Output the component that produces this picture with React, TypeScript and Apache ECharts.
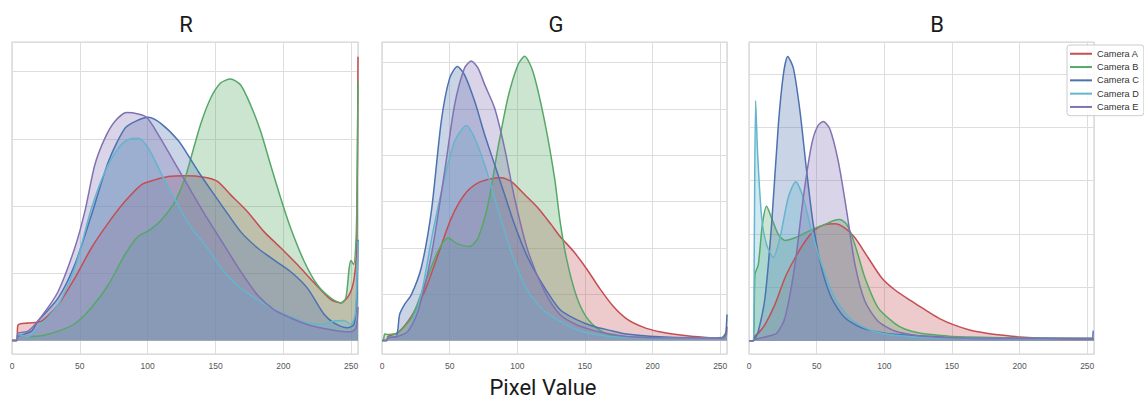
import React, { useEffect, useRef } from "react";
import * as echarts from "echarts";

const CAMERAS = ["Camera A", "Camera B", "Camera C", "Camera D", "Camera E"];
const COLORS = ["#c44e52", "#55a868", "#4c72b0", "#64b5cd", "#8172b2"];
const PANEL_TITLES = ["R", "G", "B"];
const X_LABEL = "Pixel Value";

// Values in units of the horizontal grid spacing (y labels are hidden in the reference)
const R_A = [[0,0],[3.5,0],[4.4,0.23],[11.8,0.26],[21.7,0.29],[34,0.53],[46.3,0.93],[58.6,1.38],[71,1.75],[83.3,2.07],[95.6,2.32],[105.4,2.39],[115.3,2.44],[127.6,2.45],[141.4,2.43],[151.2,2.37],[161,2.17],[173.4,1.92],[185.7,1.62],[198,1.38],[210.3,1.13],[222.7,0.86],[235,0.61],[242.4,0.56],[248.5,0.68],[252.2,0.93],[254,1.4],[255,4.22]];
const R_B = [[0,0],[3.5,0],[4.4,0.09],[11.8,0.06],[21.7,0.07],[34,0.14],[46.3,0.25],[58.6,0.49],[71,0.83],[83.3,1.28],[93,1.55],[100.5,1.63],[110.3,1.8],[120.2,2.07],[127.6,2.42],[131.5,2.69],[138.9,3.21],[146.3,3.6],[153.7,3.83],[161,3.89],[168.5,3.8],[175.9,3.5],[183.3,3.11],[190.6,2.61],[198,2.12],[205.4,1.67],[215.3,1.18],[225,0.83],[235,0.63],[242.4,0.56],[246,0.63],[248.5,1.08],[249.8,1.19],[251.8,1.13],[253.6,1.52],[254.3,2.2],[255,3.85]];
const R_C = [[0,0],[3.5,0],[4.4,0.06],[14.3,0.14],[19.2,0.29],[34,0.63],[46.3,1.13],[58.6,1.87],[71,2.66],[83.3,3.16],[93,3.28],[100.5,3.32],[110.3,3.22],[122.7,2.97],[131.5,2.7],[137.4,2.51],[143.8,2.32],[156,1.97],[168.5,1.62],[180.8,1.38],[193,1.2],[205,1.03],[217.7,0.78],[230,0.39],[237.5,0.26],[247.3,0.19],[252,0.24],[254,0.6],[255,1.5]];
const R_D = [[0,0],[3.5,0],[4.4,0.09],[11.8,0.06],[21.7,0.24],[34,0.53],[46.3,1.08],[58.6,1.97],[68.5,2.51],[78.3,2.86],[85.7,2.99],[93,3.01],[100.5,2.86],[112.8,2.37],[125,1.92],[131.5,1.7],[143.8,1.38],[156,1.03],[168.5,0.78],[180.8,0.61],[193,0.46],[205,0.36],[217.7,0.26],[230,0.24],[237.5,0.29],[244.8,0.3],[249.8,0.24],[253,0.39],[255,1.48]];
const R_E = [[0,0],[3.5,0],[4.4,0.11],[11.8,0.14],[21.7,0.36],[34,0.73],[46.3,1.38],[53.7,1.92],[61,2.61],[68.5,3.01],[75.9,3.26],[84.5,3.39],[93,3.37],[99.3,3.32],[107.9,3.06],[120,2.64],[131.5,2.24],[143.8,1.82],[156,1.43],[168.5,1.03],[180.8,0.68],[193,0.46],[205,0.34],[217.7,0.24],[230,0.18],[242,0.14],[249.8,0.13],[253.6,0.19],[255,0.5]];

const G_A = [[0,0],[3.5,0],[4.4,0.09],[11.8,0.17],[21.7,0.52],[31.5,1.06],[41.4,1.85],[51.2,2.64],[61,3.15],[70.9,3.4],[80.8,3.49],[88.2,3.51],[95.6,3.43],[105.4,3.15],[115.3,2.86],[125.1,2.5],[131.5,2.25],[141.4,1.93],[151.2,1.55],[161,1.12],[170.9,0.74],[180.8,0.47],[193,0.29],[205,0.19],[217.7,0.13],[230,0.09],[245,0.06],[253.5,0.07],[255,0.3]];
const G_B = [[0,0],[1,0],[2,0.14],[4.4,0.13],[11.8,0.17],[21.7,0.49],[31.5,1.21],[41.4,1.93],[48.8,2.21],[56.2,2.08],[64.8,2.03],[70.9,2.21],[78.3,2.93],[85.7,4.15],[93,5.23],[100.5,5.95],[105.4,6.13],[111.6,5.8],[120.2,4.73],[127.6,3.5],[131.5,2.6],[136.5,1.75],[143.8,0.95],[151.2,0.5],[161,0.22],[170,0.11],[190,0.07],[250,0.05],[255,0.2]];
const G_C = [[0,0],[3.5,0],[4.4,0.06],[10.6,0.09],[13,0.56],[16.7,0.78],[21.7,0.99],[29,1.57],[36.5,2.79],[43.8,4.73],[50,5.66],[55.7,5.91],[61,5.73],[68.5,5.16],[75.9,4.44],[83.3,3.79],[90.6,3.15],[98,2.5],[107.9,1.78],[120.2,1.14],[131.5,0.67],[143.8,0.45],[156,0.31],[168.5,0.22],[180.8,0.14],[205,0.08],[230,0.06],[252,0.06],[254,0.15],[255,0.56]];
const G_D = [[0,0],[3.5,0],[4.4,0.06],[16.7,0.13],[21.7,0.34],[29,0.99],[37.7,2.36],[46.3,3.51],[53.7,4.3],[62.3,4.64],[68.5,4.37],[75.9,3.79],[83.3,3.07],[90.6,2.36],[98,1.71],[107.9,1.06],[120.2,0.63],[131.5,0.42],[143.8,0.24],[156,0.14],[168.5,0.09],[190,0.06],[252,0.05],[255,0.1]];
const G_E = [[0,0],[3.5,0],[4.4,0.06],[11.8,0.09],[19.2,0.2],[26.6,0.63],[36.5,1.85],[46.3,3.65],[53.7,5.09],[61,5.88],[66,6.03],[70.9,5.88],[75.9,5.52],[83.3,5.01],[90.6,4.15],[98,3.07],[107.9,1.93],[120.2,1.06],[131.5,0.56],[143.8,0.34],[156,0.22],[168.5,0.14],[180.8,0.09],[205,0.06],[252,0.05],[255,0.15]];

const B_A = [[0,0],[3.2,0],[4,0.08],[6.9,0.14],[11.8,0.3],[19.2,0.68],[26.6,1.18],[34,1.55],[41.4,1.86],[48.8,2.08],[56.2,2.18],[63.5,2.19],[70.9,2.11],[78.3,1.93],[88.2,1.55],[98,1.18],[107.9,0.95],[120.2,0.74],[126.4,0.64],[133.7,0.52],[141.2,0.41],[151,0.3],[163,0.2],[175.6,0.14],[188,0.1],[200,0.07],[225,0.04],[250,0.03],[255,0.03]];
const B_B = [[0,0],[3.2,0],[4.4,1.24],[6.9,1.43],[9.9,2.18],[13,2.52],[16.7,2.3],[21.7,1.99],[26.6,1.88],[34,1.93],[41.4,2.02],[48.8,2.11],[56.2,2.18],[62.3,2.25],[67.2,2.27],[72.2,2.18],[78.3,1.8],[85.7,1.18],[95.6,0.61],[107.9,0.32],[115,0.22],[125,0.15],[137,0.11],[150,0.08],[200,0.05],[255,0.04]];
const B_C = [[0,0],[3.2,0],[4,0.02],[6.9,0.18],[11.8,0.8],[16.7,2.18],[21.7,4.05],[25.4,4.99],[28.6,5.33],[32.8,5.11],[37.7,4.3],[42.6,3.18],[47.5,2.18],[53.7,1.36],[61,0.8],[70.9,0.43],[83.3,0.24],[100.5,0.14],[120,0.1],[137,0.08],[151,0.05],[200,0.04],[253.5,0.04],[254.5,0.19],[255,0.19]];
const B_D = [[0,0],[3.2,0],[3.9,1.8],[4.9,4.5],[6.4,3.49],[9.4,2.3],[13,1.8],[18,1.56],[22.9,1.93],[29,2.68],[34.5,2.98],[40.1,2.68],[46.3,2.05],[53.7,1.43],[63.5,0.8],[75.9,0.39],[90.6,0.19],[107.9,0.1],[137,0.05],[255,0.04]];
const B_E = [[0,0],[3.2,0],[4,0.02],[11.8,0.07],[20.4,0.14],[26.6,0.43],[34,1.43],[40.1,2.68],[46.3,3.68],[50.7,4.02],[54.9,4.11],[59.9,3.96],[66,3.36],[72.2,2.43],[78.3,1.43],[85.7,0.74],[95.6,0.36],[107.9,0.18],[125,0.09],[137.4,0.07],[160,0.05],[255,0.04]];

const PANEL_DATA = [
  [R_A, R_B, R_C, R_D, R_E],
  [G_A, G_B, G_C, G_D, G_E],
  [B_A, B_B, B_C, B_D, B_E],
];
const Y_RANGES = [[-0.2, 4.44], [-0.29, 6.44], [-0.25, 5.6]];
const X_MIN = 0;
const X_MAX = 255;
const X_STEP = 50;

export default function App() {
  const ref = useRef<HTMLDivElement>(null);
  useEffect(() => {
    if (!ref.current) return;
    const chart = echarts.init(ref.current, null, { renderer: "svg" });
    const gridBoxes = [
      { left: 12, top: 42, width: 346, height: 312 },
      { left: 382, top: 42, width: 345, height: 312 },
      { left: 749, top: 42, width: 345, height: 312 },
    ];
    const titleX = [186, 556, 937];
    const grids = gridBoxes.map((g) => ({
      ...g,
      show: true,
      borderColor: "#d3d3d3",
      borderWidth: 1.2,
      backgroundColor: "#ffffff",
      containLabel: false,
    }));
    const xAxes = gridBoxes.map((_, i) => ({
      type: "value",
      gridIndex: i,
      min: X_MIN,
      max: X_MAX,
      interval: X_STEP,
      axisLine: { show: false },
      axisTick: { show: false },
      axisLabel: {
        show: true,
        showMaxLabel: false,
        fontSize: 8.5,
        color: "#555555",
        fontFamily: "Liberation Sans, Arial, sans-serif",
        margin: 7,
      },
      splitLine: { show: true, lineStyle: { color: "#dddddd", width: 1 } },
    }));
    const yAxes = gridBoxes.map((_, i) => ({
      type: "value",
      gridIndex: i,
      min: Y_RANGES[i][0],
      max: Y_RANGES[i][1],
      minInterval: 1,
      maxInterval: 1,
      axisLine: { show: false },
      axisTick: { show: false },
      axisLabel: { show: false },
      splitLine: { show: true, lineStyle: { color: "#dddddd", width: 1 } },
    }));
    const series: any[] = [];
    PANEL_DATA.forEach((cams, p) => {
      cams.forEach((data, c) => {
        series.push({
          type: "line",
          name: CAMERAS[c],
          xAxisIndex: p,
          yAxisIndex: p,
          data,
          symbol: "none",
          showSymbol: false,
          smooth: 0.25,
          silent: true,
          lineStyle: { color: COLORS[c], width: 1.5 },
          itemStyle: { color: COLORS[c] },
          areaStyle: { color: COLORS[c], opacity: 0.3 },
          emphasis: { disabled: true },
        });
      });
    });
    const graphic: any[] = PANEL_TITLES.map((t, i) => ({
      type: "text",
      x: titleX[i],
      y: 24,
      style: {
        text: t,
        fontSize: 22,
        fontFamily: "Roboto, sans-serif",
        fill: "#1a1a1a",
        align: "center",
        verticalAlign: "middle",
      },
    }));
    graphic.push({
      type: "text",
      x: 543,
      y: 387,
      style: {
        text: X_LABEL,
        fontSize: 22,
        fontFamily: "Roboto, sans-serif",
        fill: "#1a1a1a",
        align: "center",
        verticalAlign: "middle",
      },
    });
    chart.setOption({
      animation: false,
      backgroundColor: "#ffffff",
      grid: grids,
      xAxis: xAxes,
      yAxis: yAxes,
      series,
      graphic,
      legend: {
        data: CAMERAS,
        orient: "vertical",
        left: 1067,
        top: 45,
        icon: "rect",
        itemWidth: 22,
        itemHeight: 2,
        itemGap: 1.8,
        padding: [3, 5, 3, 3],
        borderColor: "#cccccc",
        borderWidth: 1,
        borderRadius: 3,
        backgroundColor: "rgba(255,255,255,0.85)",
        selectedMode: false,
        textStyle: {
          fontSize: 9.2,
          lineHeight: 11.5,
          color: "#333333",
          fontFamily: "Liberation Sans, Arial, sans-serif",
        },
        z: 10,
      },
    });
    return () => chart.dispose();
  }, []);
  return (
    <div
      ref={ref}
      style={{ position: "absolute", left: 0, top: 0, width: 1144, height: 403 }}
    />
  );
}
